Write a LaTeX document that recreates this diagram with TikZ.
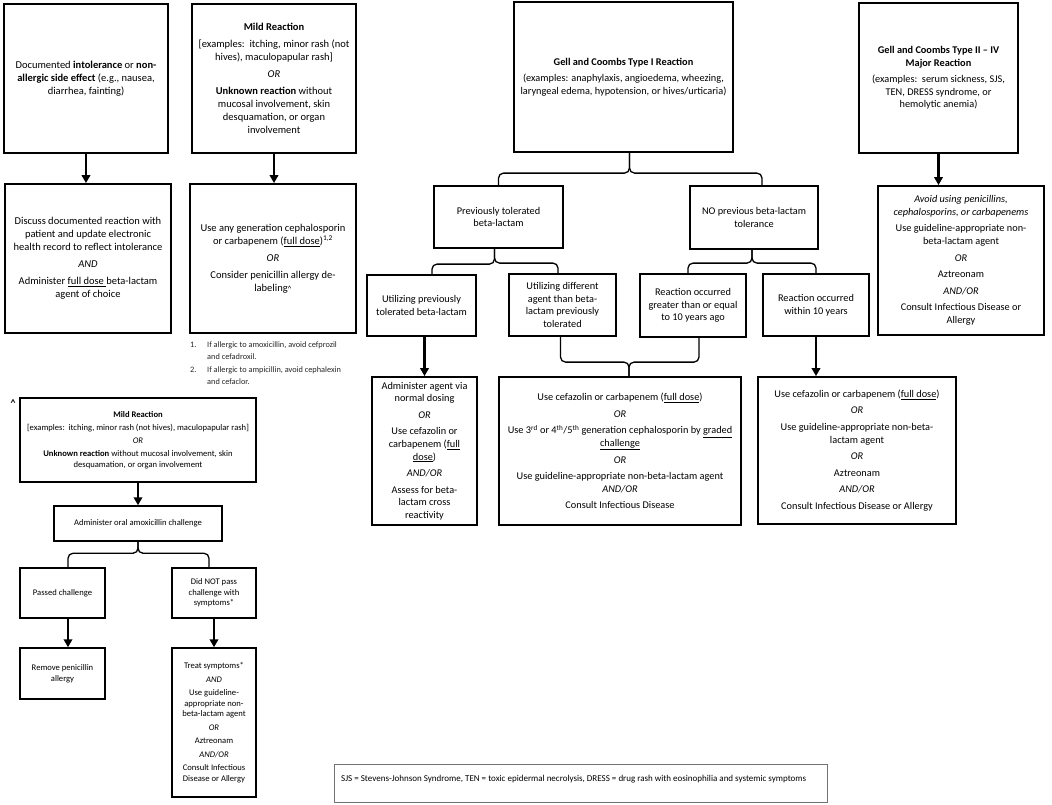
\documentclass[tikz,border=0pt]{standalone}
\usepackage{fontspec}
\setmainfont{Carlito}
\usetikzlibrary{arrows.meta,calc}
\begin{document}
\begin{tikzpicture}[x=1pt,y=-1pt,
  bx/.style={draw, line width=1.8pt, inner sep=0pt, align=center},
  bxs/.style={draw, line width=1.5pt, inner sep=0pt, align=center},
  big/.style={font=\fontsize{10.5}{13}\selectfont},
  mid/.style={font=\fontsize{10.3}{12.6}\selectfont},
  sml/.style={font=\fontsize{8.6}{11}\selectfont},
  smlb/.style={font=\fontsize{8.6}{10.5}\selectfont},
  fn/.style={font=\fontsize{8.3}{9}\selectfont, inner sep=0pt, text=black!85},
  arr/.style={line width=2.2pt, -{Triangle[length=8pt,width=8.5pt]}},
  brace/.style={line width=1.3pt, rounded corners=5pt}]
\fill[white] (0,0) rectangle (1052,804);
\useasboundingbox (0,0) rectangle (1052,804);

% top left column
\node[bx,big,minimum width=164pt,minimum height=149pt] (A) at (86,78.5)
 {Documented \textbf{intolerance} or \textbf{non-}\\\textbf{allergic side effect} (e.g., nausea,\\diarrhea, fainting)};
\node[bx,big,minimum width=164pt,minimum height=149pt] (B) at (274,78.5)
 {\textbf{Mild Reaction}\\[4pt][examples:\ \ itching, minor rash (not\\hives), maculopapular rash]\\[4pt]\textit{OR}\\[4pt]\textbf{Unknown reaction} without\\mucosal involvement, skin\\desquamation, or organ\\involvement};
\node[bx,big,minimum width=166pt,minimum height=149pt] (A2) at (88,258.5)
 {Discuss documented reaction with\\patient and update electronic\\health record to reflect intolerance\\[4pt]\textit{AND}\\[4pt]Administer \underline{full dose }beta-lactam\\agent of choice};
\node[bx,big,minimum width=166pt,minimum height=149pt] (B2) at (273,258.5)
 {Use any generation cephalosporin\\or carbapenem (\underline{full dose})\textsuperscript{1,2}\\[4pt]\textit{OR}\\[4pt]Consider penicillin allergy de-\\labeling{\fontsize{8}{8}\selectfont\textasciicircum}};
\draw[arr] (A.south) -- (A.south |- A2.north);
\draw[arr] (B.south) -- (B.south |- B2.north);

% footnotes
\node[fn, anchor=base west] (f1n) at (190,347) {1.};
\node[fn, anchor=base west] (f1a) at (207,347) {If allergic to amoxicillin, avoid cefprozil};
\node[fn, anchor=base west] (f1b) at (207,359) {and cefadroxil.};
\node[fn, anchor=base west] (f2n) at (190,372) {2.};
\node[fn, anchor=base west] (f2a) at (207,372) {If allergic to ampicillin, avoid cephalexin};
\node[fn, anchor=base west] (f2b) at (207,384) {and cefaclor.};

% Type I
\node[bx,mid,minimum width=219pt,minimum height=150pt] (C) at (623.5,77)
 {\textbf{Gell and Coombs Type I Reaction}\\[4pt](examples: anaphylaxis, angioedema, wheezing,\\laryngeal edema, hypotension, or hives/urticaria)};
\node[bx,mid,minimum width=129pt,minimum height=62pt] (E) at (498.5,217)
 {Previously tolerated\\beta-lactam};
\node[bx,mid,minimum width=128pt,minimum height=63pt] (F) at (754,217.5)
 {NO previous beta-lactam\\tolerance};
\node[bx,mid,minimum width=109pt,minimum height=61pt] (G) at (421.5,305.5)
 {Utilizing previously\\tolerated beta-lactam};
\node[bx,mid,minimum width=107pt,minimum height=62pt] (H) at (562.5,305)
 {Utilizing different\\agent than beta-\\lactam previously\\tolerated};
\node[bx,mid,minimum width=106pt,minimum height=63pt] (I) at (693,305.5)
 {Reaction occurred\\greater than or equal\\to 10 years ago};
\node[bx,mid,minimum width=106pt,minimum height=62pt] (J) at (816,305)
 {Reaction occurred\\within 10 years};
\node[bx,mid,minimum width=105pt,minimum height=148pt] (L) at (424.5,451)
 {Administer agent via\\normal dosing\\[4pt]\textit{OR}\\[4pt]Use cefazolin or\\carbapenem (\underline{full}\\\underline{dose})\\[4pt]\textit{AND/OR}\\[4pt]Assess for beta-\\lactam cross\\reactivity};
\node[bx,mid,minimum width=242pt,minimum height=148pt] (M) at (620,451)
 {Use cefazolin or carbapenem (\underline{full dose})\\[4pt]\textit{OR}\\[4pt]Use 3\textsuperscript{rd} or 4\textsuperscript{th}/5\textsuperscript{th} generation cephalosporin by \underline{graded}\\\underline{challenge}\\[4pt]\textit{OR}\\[4pt]Use guideline-appropriate non-beta-lactam agent\\\textit{AND/OR}\\[4pt]Consult Infectious Disease};
\node[bx,mid,minimum width=198pt,minimum height=147pt] (N) at (857,450.5)
 {Use cefazolin or carbapenem (\underline{full dose})\\[4pt]\textit{OR}\\[4pt]Use guideline-appropriate non-beta-\\lactam agent\\[4pt]\textit{OR}\\[4pt]Aztreonam\\[4pt]\textit{AND/OR}\\[4pt]Consult Infectious Disease or Allergy};

\draw[brace] ([xshift=6]C.south) |- ([yshift=12]E.north) -- (E.north);
\draw[brace] ([xshift=6]C.south) |- ([xshift=8,yshift=12]F.north) -- ([xshift=8]F.north);
\draw[brace] ([xshift=-4]E.south) |- ([xshift=10.5,yshift=10]G.north) -- ([xshift=10.5]G.north);
\draw[brace] ([xshift=-4]E.south) |- ([xshift=-4.5,yshift=10]H.north) -- ([xshift=-4.5]H.north);
\draw[brace] ([xshift=-2]F.south) |- ([xshift=-5,yshift=10]I.north) -- ([xshift=-5]I.north);
\draw[brace] ([xshift=-2]F.south) |- ([yshift=10]J.north) -- (J.north);
\draw[brace] ([xshift=-2]H.south) |- ([xshift=9,yshift=14]M.north) -- ([xshift=9]M.north);
\draw[brace] ([xshift=6]I.south) |- ([xshift=9,yshift=14]M.north) -- ([xshift=9]M.north);
\draw[arr] (L.north |- G.south) -- (L.north);
\draw[arr] (J.south) -- (J.south |- N.north);

% Type II-IV
\node[bx,mid,minimum width=159pt,minimum height=150pt] (D) at (938.5,78)
 {\textbf{Gell and Coombs Type II – IV}\\\textbf{Major Reaction}\\[4pt](examples:\ \ serum sickness, SJS,\\TEN, DRESS syndrome, or\\hemolytic anemia)};
\node[bx,mid,minimum width=166pt,minimum height=149pt] (K) at (961,260.5)
 {\textit{Avoid using penicillins,}\\\textit{cephalosporins, or carbapenems}\\[4pt]Use guideline-appropriate non-\\beta-lactam agent\\[4pt]\textit{OR}\\[4pt]Aztreonam\\[4pt]\textit{AND/OR}\\[4pt]Consult Infectious Disease or\\Allergy};
\draw[arr] (D.south) -- (D.south |- K.north);

% bottom left
\node[font=\fontsize{10}{10}\selectfont\bfseries, inner sep=0pt, anchor=base] (car) at (13,406) {\textasciicircum};
\node[bxs,sml,minimum width=236pt,minimum height=84pt] (P) at (138,440)
 {\textbf{Mild Reaction}\\[2pt][examples:\ \ itching, minor rash (not hives), maculopapular rash]\\[2pt]\textit{OR}\\[2pt]\textbf{Unknown reaction} without mucosal involvement, skin\\desquamation, or organ involvement};
\node[bxs,sml,minimum width=168pt,minimum height=35pt] (Q) at (138,523.5)
 {Administer oral amoxicillin challenge};
\node[bxs,smlb,minimum width=85pt,minimum height=50pt] (R) at (62.5,593)
 {Passed challenge};
\node[bxs,smlb,minimum width=84pt,minimum height=50pt] (S) at (214,593)
 {Did NOT pass\\challenge with\\symptoms*};
\node[bxs,smlb,minimum width=85pt,minimum height=51pt] (T) at (62.5,673.5)
 {Remove penicillin\\allergy};
\node[bxs,smlb,minimum width=84pt,minimum height=149pt] (U) at (214,722.5)
 {Treat symptoms*\\[3pt]\textit{AND}\\[3pt]Use guideline-\\appropriate non-\\beta-lactam agent\\[3pt]\textit{OR}\\[3pt]Aztreonam\\[3pt]\textit{AND/OR}\\[3pt]Consult Infectious\\Disease or Allergy};
\draw[arr] (P.south) -- (Q.north);
\draw[brace] (Q.south) |- ([xshift=5.5,yshift=14]R.north) -- ([xshift=5.5]R.north);
\draw[brace] (Q.south) |- ([xshift=-5,yshift=14]S.north) -- ([xshift=-5]S.north);
\draw[arr] ([xshift=5.5]R.south) -- ([xshift=5.5]R.south |- T.north);
\draw[arr] (S.south) -- (S.south |- U.north);

% legend
\node[draw=black!55, line width=0.8pt, minimum width=493pt, minimum height=38pt, inner sep=0pt] (V) at (580.5,783) {};
\node[font=\fontsize{9}{11}\selectfont, anchor=base west, inner sep=0pt] (Vt) at (341,781)
 {SJS = Stevens-Johnson Syndrome, TEN = toxic epidermal necrolysis, DRESS = drug rash with eosinophilia and systemic symptoms};
\end{tikzpicture}
\end{document}
